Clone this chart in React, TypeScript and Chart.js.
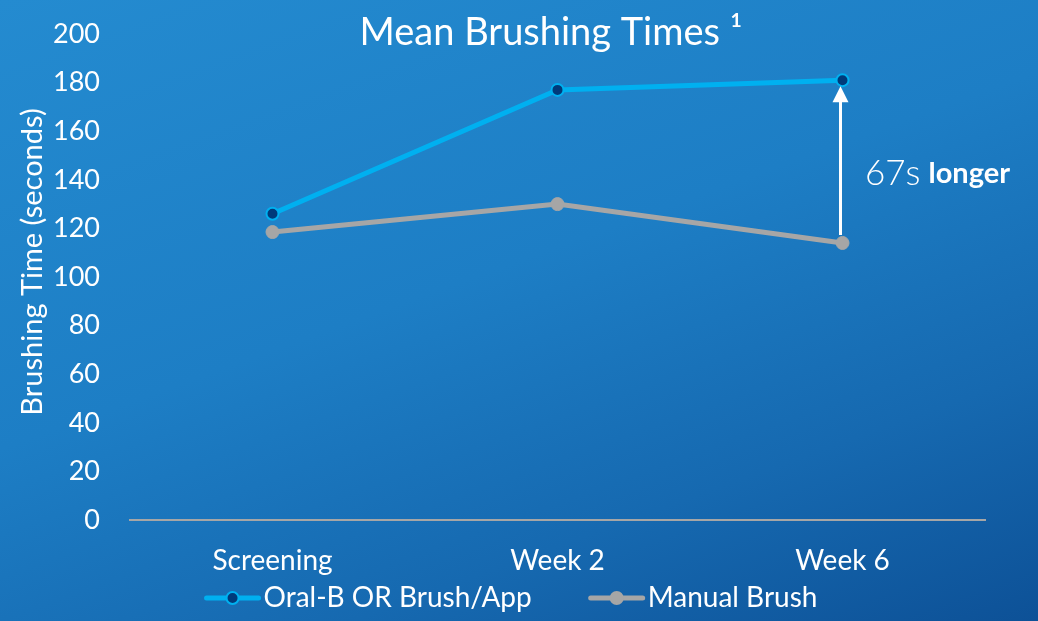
import React, { useEffect, useRef } from "react";
import { Chart, registerables } from "chart.js";

Chart.register(...registerables);

const categories = ["Screening", "Week 2", "Week 6"];
const oralBValues = [126, 177, 181];
const manualValues = [118.5, 130, 114];
const seriesLabels = ["Oral-B OR Brush/App", "Manual Brush"];
const yTicksMin = 0;
const yTicksMax = 200;
const yTickStep = 20;
const chartTitle = "Mean Brushing Times \u00b9";
const yAxisTitle = "Brushing Time (seconds)";
const annotationNumber = "67s";
const annotationWord = "longer";

const FONT = "Lato, 'Open Sans', sans-serif";
const BLUE = "#00b0f0";
const NAVY = "#003a7a";
const GRAY = "#a6a6a6";

export default function App() {
  const ref = useRef<HTMLCanvasElement>(null);

  useEffect(() => {
    const canvas = ref.current;
    if (!canvas) return;

    const overlay = {
      id: "overlay",
      afterDraw(chart: any) {
        const { ctx } = chart;
        const x = chart.scales.x;
        const y = chart.scales.y;
        ctx.save();
        // title
        ctx.fillStyle = "#ffffff";
        ctx.font = `38px ${FONT}`;
        ctx.textAlign = "center";
        ctx.textBaseline = "middle";
        ctx.fillText(chartTitle, 551, 33);

        // y axis title
        ctx.save();
        ctx.translate(33, 262);
        ctx.rotate(-Math.PI / 2);
        ctx.font = `29px ${FONT}`;
        ctx.fillText(yAxisTitle, 0, 0);
        ctx.restore();

        // annotation arrow at last category
        const last = categories.length - 1;
        const ax = x.getPixelForValue(last) - 2;
        const yTop = y.getPixelForValue(oralBValues[last]) + 6;
        const yBot = y.getPixelForValue(manualValues[last]) - 8;
        ctx.strokeStyle = "#ffffff";
        ctx.lineWidth = 3;
        ctx.beginPath();
        ctx.moveTo(ax, yBot);
        ctx.lineTo(ax, yTop + 14);
        ctx.stroke();
        ctx.fillStyle = "#ffffff";
        ctx.beginPath();
        ctx.moveTo(ax, yTop);
        ctx.lineTo(ax - 8, yTop + 16);
        ctx.lineTo(ax + 8, yTop + 16);
        ctx.closePath();
        ctx.fill();

        ctx.textAlign = "left";
        ctx.textBaseline = "middle";
        ctx.font = `300 35px ${FONT}`;
        const tx = 865;
        const ty = 174;
        ctx.fillText(annotationNumber, tx, ty);
        const w = ctx.measureText(annotationNumber).width + 8;
        ctx.font = `bold 29px ${FONT}`;
        ctx.fillText(annotationWord, tx + w, ty);

        // legend
        ctx.font = `28px ${FONT}`;
        const items = [
          { label: seriesLabels[0], line: BLUE, fill: NAVY, border: BLUE, r: 6 },
          { label: seriesLabels[1], line: GRAY, fill: GRAY, border: GRAY, r: 6 },
        ];
        const markerW = 56;
        const gapText = 3;
        const gapItems = 57;
        let total = 0;
        items.forEach((it, i) => {
          total += markerW + gapText + ctx.measureText(it.label).width;
          if (i < items.length - 1) total += gapItems;
        });
        let lx = 511 - total / 2;
        const ly = 598;
        items.forEach((it) => {
          ctx.strokeStyle = it.line;
          ctx.lineWidth = 5;
          ctx.lineCap = "round";
          ctx.beginPath();
          ctx.moveTo(lx + 2, ly);
          ctx.lineTo(lx + markerW - 2, ly);
          ctx.stroke();
          ctx.beginPath();
          ctx.arc(lx + markerW / 2, ly, it.r, 0, Math.PI * 2);
          ctx.fillStyle = it.fill;
          ctx.fill();
          ctx.lineWidth = 2;
          ctx.strokeStyle = it.border;
          ctx.stroke();
          ctx.fillStyle = "#ffffff";
          ctx.textAlign = "left";
          ctx.fillText(it.label, lx + markerW + gapText, ly);
          lx += markerW + gapText + ctx.measureText(it.label).width + gapItems;
        });
        ctx.restore();
      },
    };

    const chart = new Chart(canvas, {
      type: "line",
      data: {
        labels: categories,
        datasets: [
          {
            label: seriesLabels[0],
            data: oralBValues,
            borderColor: BLUE,
            backgroundColor: NAVY,
            pointBackgroundColor: NAVY,
            pointBorderColor: BLUE,
            pointBorderWidth: 2,
            pointRadius: 6,
            borderWidth: 5,
            tension: 0,
          },
          {
            label: seriesLabels[1],
            data: manualValues,
            borderColor: GRAY,
            backgroundColor: GRAY,
            pointBackgroundColor: GRAY,
            pointBorderColor: GRAY,
            pointBorderWidth: 1,
            pointRadius: 6.5,
            borderWidth: 5,
            tension: 0,
          },
        ],
      },
      options: {
        responsive: false,
        animation: false,
        layout: { padding: { top: 34, right: 53, bottom: 0, left: 0 } },
        plugins: {
          legend: { display: false },
          title: { display: false },
          tooltip: { enabled: false },
        },
        scales: {
          x: {
            offset: true,
            grid: { display: false },
            border: { display: true, color: GRAY, width: 2 },
            ticks: {
              color: "#ffffff",
              font: { family: FONT, size: 28 },
              padding: 16,
              maxRotation: 0,
            },
            afterFit: (s: any) => {
              s.height = 101;
            },
          },
          y: {
            min: yTicksMin,
            max: yTicksMax,
            grid: { display: false },
            border: { display: false },
            ticks: {
              stepSize: yTickStep,
              color: "#ffffff",
              font: { family: FONT, size: 27 },
              padding: 22,
            },
            afterFit: (s: any) => {
              s.width = 130;
              s.paddingTop = 0;
              s.paddingBottom = 0;
            },
          },
        },
      },
      plugins: [overlay],
    });
    return () => chart.destroy();
  }, []);

  return (
    <div
      style={{
        position: "absolute",
        left: 0,
        top: 0,
        width: 1038,
        height: 621,
        background:
          "linear-gradient(160deg, #248bd0 0%, #1d7ec5 45%, #1669b0 75%, #0d5197 100%)",
      }}
    >
      <canvas ref={ref} width={1038} height={621} style={{ display: "block" }} />
    </div>
  );
}
